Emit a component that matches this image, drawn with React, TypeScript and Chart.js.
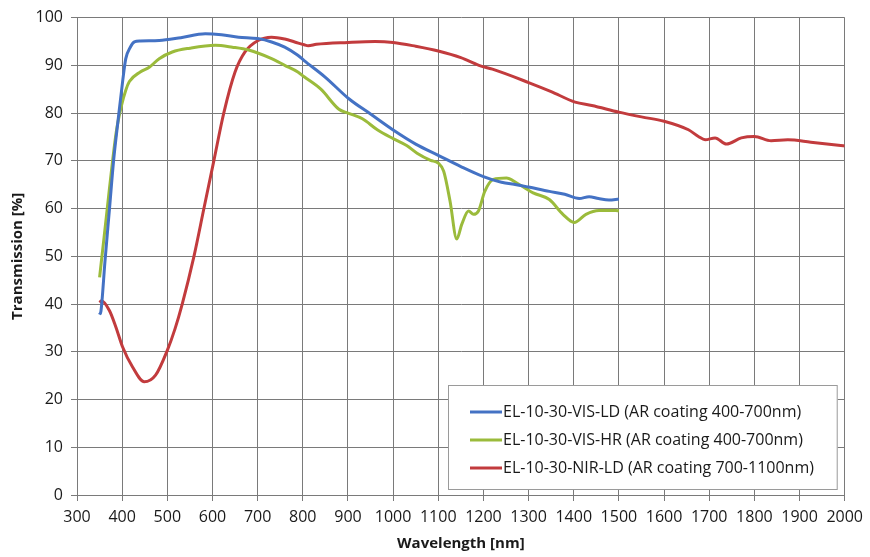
import React, { useEffect, useRef } from "react";
import { Chart, registerables } from "chart.js";

Chart.register(...registerables);

// Wavelength axis ticks (nm) and transmission ticks (%)
const xTicks = [300, 400, 500, 600, 700, 800, 900, 1000, 1100, 1200, 1300, 1400, 1500, 1600, 1700, 1800, 1900, 2000];
const yTicks = [0, 10, 20, 30, 40, 50, 60, 70, 80, 90, 100];

// EL-10-30-VIS-LD
const visLdNm = [350, 353, 362, 372, 381, 391, 401, 408, 418, 427, 440, 482, 530, 584, 620, 658, 700, 731, 760, 789, 803, 850, 902, 950, 1001, 1050, 1101, 1150, 1200, 1240, 1273, 1300, 1346, 1380, 1412, 1434, 1455, 1478, 1500];
const visLdT = [37.8, 38.5, 49, 60, 70, 78.5, 86.6, 91.4, 93.8, 94.9, 95.1, 95.2, 95.8, 96.6, 96.4, 95.9, 95.6, 94.9, 93.8, 92.1, 91, 87.5, 83, 79.8, 76.4, 73.5, 71.1, 68.8, 66.7, 65.5, 65, 64.5, 63.6, 63, 62.1, 62.5, 62.1, 61.8, 62];

// EL-10-30-VIS-HR
const visHrNm = [350, 360, 372, 387, 398, 408, 416, 440, 460, 482, 511, 550, 606, 644, 680, 731, 760, 789, 803, 840, 880, 900, 932, 965, 1001, 1030, 1053, 1083, 1100, 1112, 1126, 1141, 1152, 1167, 1178, 1189, 1203, 1222, 1251, 1273, 1310, 1346, 1376, 1401, 1427, 1456, 1493, 1500];
const visHrT = [45.6, 54, 64.3, 76.1, 81.4, 84.8, 86.6, 88.6, 89.6, 91.4, 92.8, 93.6, 94.2, 93.8, 93.2, 91.4, 90, 88.6, 87.6, 85, 80.8, 80, 78.8, 76.5, 74.6, 73.2, 71.6, 70.1, 69.5, 67.8, 61.6, 53.6, 56.7, 59.5, 58.8, 59.5, 63.6, 66.1, 66.4, 65.4, 63.3, 61.9, 58.8, 57.1, 58.8, 59.6, 59.6, 59.5];

// EL-10-30-NIR-LD
const nirLdNm = [350, 354, 372, 386, 401, 423, 449, 474, 500, 517, 533, 559, 581, 603, 625, 650, 672, 701, 731, 760, 782, 803, 812, 830, 900, 960, 1000, 1050, 1100, 1150, 1190, 1220, 1300, 1350, 1403, 1440, 1500, 1550, 1600, 1654, 1676, 1691, 1713, 1738, 1771, 1800, 1837, 1874, 1925, 1991, 2000];
const nirLdT = [40.3, 40.7, 38.6, 35.2, 31, 26.8, 23.7, 25.1, 30.3, 34.8, 40, 50, 60, 70, 80, 88.6, 92.8, 95.2, 95.9, 95.5, 94.9, 94.3, 94.1, 94.4, 94.8, 95, 94.8, 94, 93, 91.6, 90, 89.2, 86.4, 84.5, 82.3, 81.6, 80.2, 79.2, 78.3, 76.5, 75.1, 74.4, 74.8, 73.5, 74.8, 75.1, 74.2, 74.4, 73.9, 73.2, 73.1];

const seriesLabels = [
  "EL-10-30-VIS-LD (AR coating 400-700nm)",
  "EL-10-30-VIS-HR (AR coating 400-700nm)",
  "EL-10-30-NIR-LD (AR coating 700-1100nm)",
];
const seriesColors = ["#4472C4", "#9BBB3B", "#C23B3D"];

const FONT = "'Open Sans', 'Liberation Sans', sans-serif";
const GRID = "#7a7a7a";
const TEXT = "#1a1a1a";

const toPoints = (xs: number[], ys: number[]) => xs.map((x, i) => ({ x, y: ys[i] }));

// Legend box drawn inside the plot area, lower right
const boxLegend = {
  id: "boxLegend",
  afterDraw(chart: any) {
    const { ctx, chartArea } = chart;
    const right = chartArea.right - 7;
    const bottom = chartArea.bottom - 5;
    const left = 448;
    const top = 385;
    ctx.save();
    ctx.fillStyle = "#ffffff";
    ctx.fillRect(left, top, right - left, bottom - top);
    ctx.strokeStyle = "#9a9a9a";
    ctx.lineWidth = 1;
    ctx.strokeRect(left + 0.5, top + 0.5, right - left - 1, bottom - top - 1);
    ctx.font = `16px ${FONT}`;
    ctx.textBaseline = "middle";
    ctx.fillStyle = TEXT;
    chart.data.datasets.forEach((ds: any, i: number) => {
      const y = 412 + i * 28;
      ctx.strokeStyle = ds.borderColor;
      ctx.lineWidth = 3;
      ctx.beginPath();
      ctx.moveTo(470, y);
      ctx.lineTo(502, y);
      ctx.stroke();
      ctx.fillText(ds.label, 503, y);
    });
    ctx.restore();
  },
};

export default function App() {
  const ref = useRef<HTMLCanvasElement>(null);

  useEffect(() => {
    if (!ref.current) return;
    const chart = new Chart(ref.current, {
      type: "line",
      data: {
        datasets: [
          { label: seriesLabels[0], data: toPoints(visLdNm, visLdT), borderColor: seriesColors[0] },
          { label: seriesLabels[1], data: toPoints(visHrNm, visHrT), borderColor: seriesColors[1] },
          { label: seriesLabels[2], data: toPoints(nirLdNm, nirLdT), borderColor: seriesColors[2] },
        ].map((d) => ({
          ...d,
          backgroundColor: d.borderColor,
          borderWidth: 3,
          pointRadius: 0,
          cubicInterpolationMode: "monotone" as const,
          fill: false,
        })),
      },
      options: {
        responsive: false,
        animation: false,
        devicePixelRatio: 1,
        layout: { padding: { top: 15, right: 23, left: 0, bottom: 0 } },
        plugins: { legend: { display: false }, tooltip: { enabled: false } },
        scales: {
          x: {
            type: "linear",
            min: 300,
            max: 2000,
            afterBuildTicks: (s: any) => {
              s.ticks = xTicks.map((v) => ({ value: v }));
            },
            afterFit: (s: any) => {
              s.height = 62;
            },
            grid: { color: GRID, lineWidth: 1, tickLength: 6, drawTicks: true },
            border: { color: GRID },
            ticks: {
              color: TEXT,
              font: { family: FONT, size: 16 },
              padding: 7,
              maxRotation: 0,
              autoSkip: false,
              callback: (v: any) => String(v),
            },
            title: {
              display: true,
              text: "Wavelength [nm]",
              color: TEXT,
              font: { family: FONT, size: 15, weight: "bold" },
              padding: { top: 0, bottom: 4 },
            },
          },
          y: {
            type: "linear",
            min: 0,
            max: 100,
            afterBuildTicks: (s: any) => {
              s.ticks = yTicks.map((v) => ({ value: v }));
            },
            afterFit: (s: any) => {
              s.width = 77;
            },
            grid: { color: GRID, lineWidth: 1, tickLength: 6, drawTicks: true },
            border: { color: GRID },
            ticks: {
              color: TEXT,
              font: { family: FONT, size: 16 },
              padding: 8,
              autoSkip: false,
              callback: (v: any) => String(v),
            },
            title: {
              display: true,
              text: "Transmission [%]",
              color: TEXT,
              font: { family: FONT, size: 15, weight: "bold" },
              padding: { top: 9, bottom: 0 },
            },
          },
        },
      },
      plugins: [boxLegend],
    });
    return () => chart.destroy();
  }, []);

  return (
    <div style={{ position: "absolute", left: 0, top: 0, width: 870, height: 557, background: "#fff" }}>
      <canvas ref={ref} width={870} height={557} style={{ display: "block" }} />
    </div>
  );
}
